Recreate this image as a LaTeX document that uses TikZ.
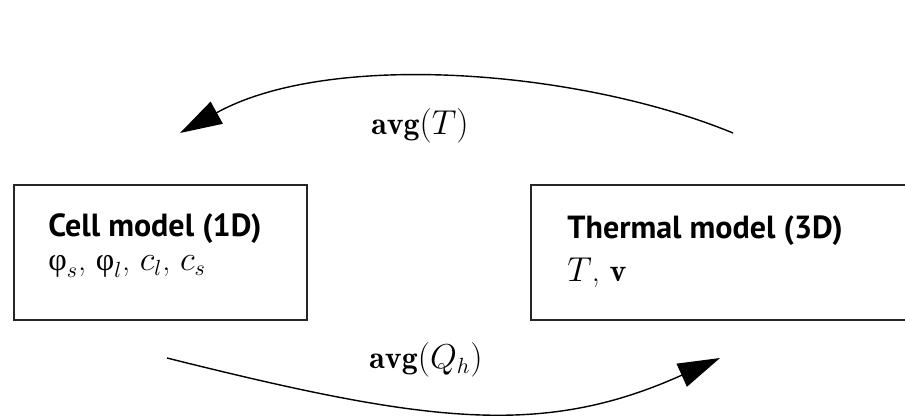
\documentclass[tikz,border=0pt]{standalone}
\usepackage{amsmath,amssymb}
\usepackage{fontspec}
\newfontfamily\headfont{PT Sans}
\newfontfamily\greekfont{Liberation Serif}
\newcommand{\upph}{\text{\greekfont φ}}
\usetikzlibrary{arrows.meta,positioning,calc}

\tikzset{
  modelbox/.style={draw=black!85,line width=0.8pt,minimum width=146.5pt,
                   minimum height=67.5pt,inner sep=0pt},
  boxtitle/.style={anchor=base west,inner sep=0pt,
                   font=\headfont\bfseries\fontsize{16}{19}\selectfont},
  boxvars/.style={anchor=base west,inner sep=0pt,font=\fontsize{16}{19}\selectfont},
  flow/.style={line width=0.7pt,-{Triangle[length=21pt,width=12.5pt]}},
  flowlabel/.style={anchor=base,inner sep=0pt,font=\fontsize{16}{19}\selectfont},
}

\begin{document}
\begin{tikzpicture}[x=0.5pt,y=-0.5pt]
        \clip (0,0) rectangle (905,419);
        % the two models
        \node[modelbox] (cell) at (160.5,252.5) {};
        \node[modelbox,minimum width=204.5pt] (therm) at (735.5,252.5) {};
        \node[boxtitle] (celltitle) at (48,236) {Cell model (1D)};
        \node[boxvars] (cellvars) at (48,270) {$\upph_s$, $\upph_l$, $c_l$, $c_s$};
        \node[boxtitle] (thermtitle) at (567,238) {Thermal model (3D)};
        \node[boxvars] (thermvars) at (567,281) {$T$, $\mathbf{v}$};
        % exchanged averages
        \coordinate (tfrom) at (733,133);
        \coordinate (tto) at (180,133);
        \coordinate (qfrom) at (167,358);
        \coordinate (qto) at (720,358);
        \draw[flow] (tfrom) .. controls (580,70) and (330,50) .. (tto);
        \draw[flow] (qfrom) .. controls (427,423) and (542,438) .. (qto);
        \node[flowlabel] (avgT) at (420,134) {$\mathbf{avg}(T)$};
        \node[flowlabel] (avgQ) at (426,368) {$\mathbf{avg}(Q_h)$};
      \end{tikzpicture}
\end{document}
